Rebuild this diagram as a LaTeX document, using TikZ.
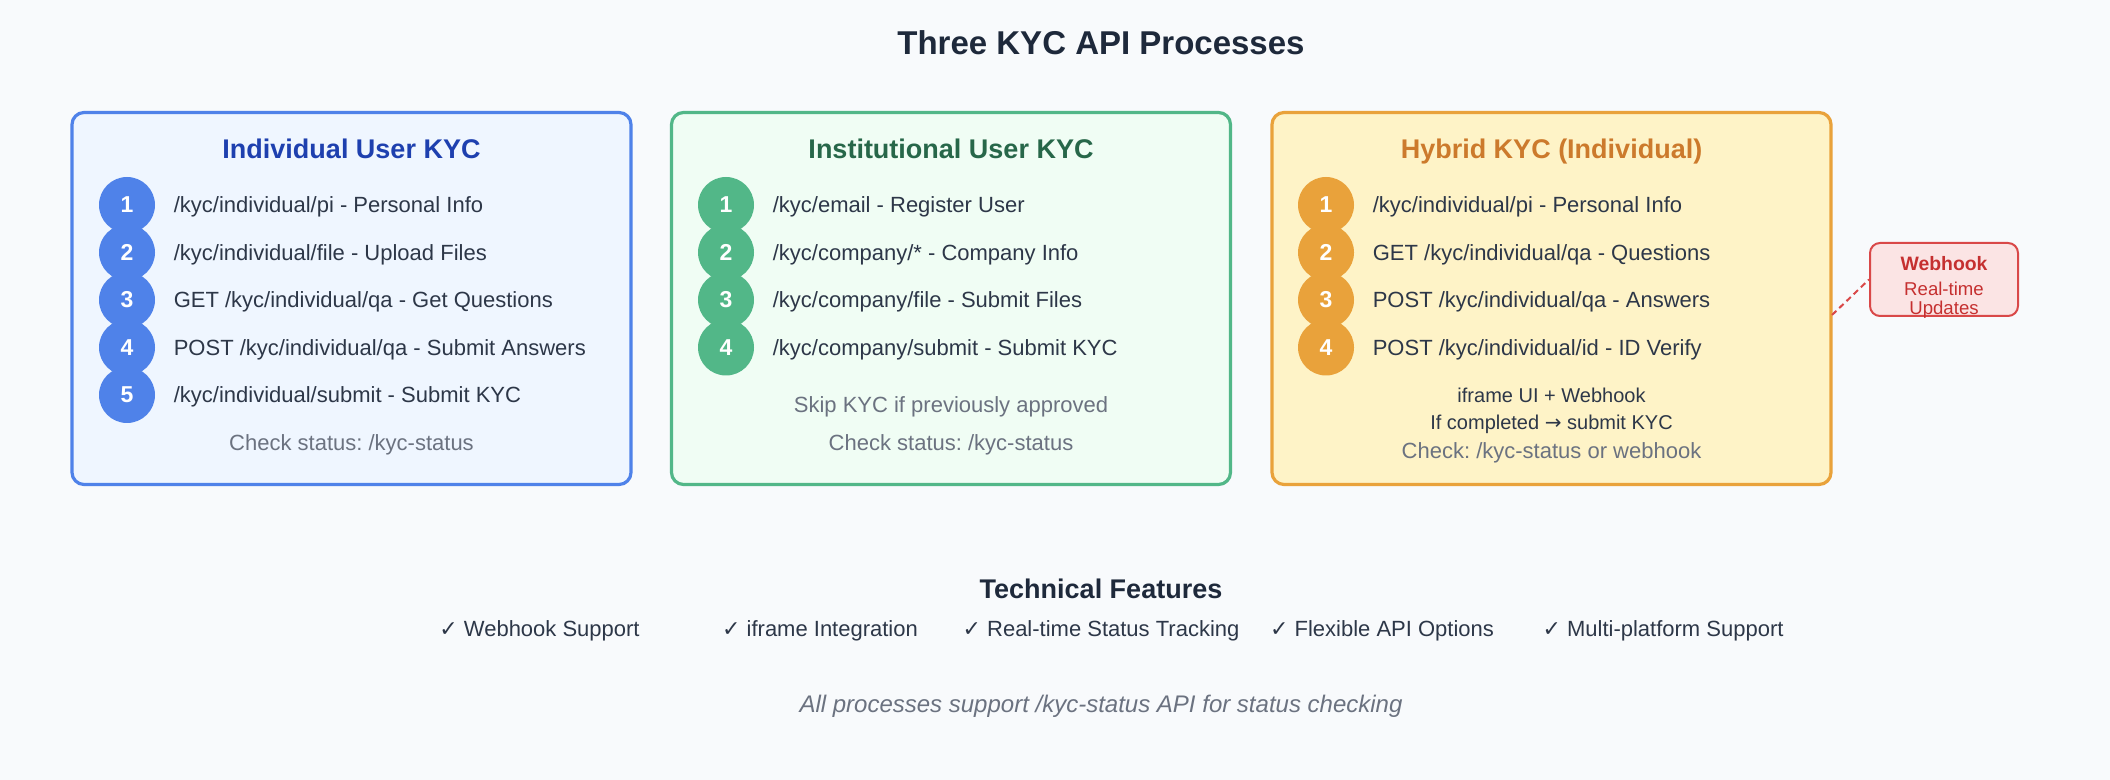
\documentclass[tikz,border=0pt]{standalone}
\usepackage{fontspec}
\setmainfont{Liberation Sans}
\newfontfamily\symfont{DejaVu Sans}
\usepackage{tikz}
\usetikzlibrary{positioning}
\frenchspacing

\definecolor{pagebg}{HTML}{F8FAFC}
\definecolor{titleink}{HTML}{1E293B}
\definecolor{ink}{HTML}{2D3748}
\definecolor{muted}{HTML}{6B7280}
\definecolor{bluedot}{HTML}{4F82E9}
\definecolor{bluebg}{HTML}{EFF6FF}
\definecolor{bluetitle}{HTML}{1E40AF}
\definecolor{greendot}{HTML}{52B788}
\definecolor{greenbg}{HTML}{F0FDF4}
\definecolor{greentitle}{HTML}{276749}
\definecolor{orangedot}{HTML}{E9A23B}
\definecolor{orangebg}{HTML}{FEF3C7}
\definecolor{orangetitle}{HTML}{CC7A2C}
\definecolor{hookline}{HTML}{D94848}
\definecolor{hookbg}{HTML}{FBE4E4}
\definecolor{hooktext}{HTML}{C53030}

\begin{document}
\begin{tikzpicture}[
            x = 0.5pt, y = -0.5pt, % one unit = one pixel, y down
            txt/.style = {inner sep=0pt, text depth=0pt},
            panel/.style = {draw, line width=1.6pt, rounded corners=6pt,
                minimum width=279.5pt, minimum height=186pt, inner sep=0pt},
            num/.style = {circle, minimum size=28pt, inner sep=0pt, text=white,
                font=\fontsize{11.5}{13}\selectfont\bfseries},
            heading/.style = {txt, text height=9.5pt, font=\fontsize{13.5}{16}\selectfont\bfseries},
            stepline/.style = {txt, text height=7.7pt, text=ink, font=\fontsize{11}{13}\selectfont},
            note/.style = {txt, text height=7.7pt, text=muted, font=\fontsize{11}{13}\selectfont},
            feature/.style = {txt, text height=7.7pt, text=ink, font=\fontsize{11}{13}\selectfont}
        ]

    \useasboundingbox (0,0) rectangle (2110,780);
    \fill[pagebg] (0,0) rectangle (2110,780);

    \node[txt, text height=11.5pt, text=titleink, font=\fontsize{16.5}{20}\selectfont\bfseries] (title) at (1101,43) {Three KYC API Processes};

    % the three panels
    \node[panel, draw=bluedot, fill=bluebg] (indbox) at (351.5,298.5) {};
    \node[panel, draw=greendot, fill=greenbg] (insbox) at (951,298.5) {};
    \node[panel, draw=orangedot, fill=orangebg] (hybbox) at (1551.5,298.5) {};

    % individual
    \node[heading, text=bluetitle] (indhead) at (351.5,149) {Individual User KYC};
    \node[num, fill=bluedot] (i1) at (127,205) {1};
    \node[stepline, right=9pt of i1] (i1t) {/kyc/individual/pi - Personal Info};
    \node[num, fill=bluedot] (i2) at (127,252.5) {2};
    \node[stepline, right=9pt of i2] (i2t) {/kyc/individual/file - Upload Files};
    \node[num, fill=bluedot] (i3) at (127,300) {3};
    \node[stepline, right=9pt of i3] (i3t) {GET /kyc/individual/qa - Get Questions};
    \node[num, fill=bluedot] (i4) at (127,347.5) {4};
    \node[stepline, right=9pt of i4] (i4t) {POST /kyc/individual/qa - Submit Answers};
    \node[num, fill=bluedot] (i5) at (127,395) {5};
    \node[stepline, right=9pt of i5] (i5t) {/kyc/individual/submit - Submit KYC};
    \node[note] (indcheck) at (351.5,443) {Check status: /kyc-status};

    % institutional
    \node[heading, text=greentitle] (inshead) at (951,149) {Institutional User KYC};
    \node[num, fill=greendot] (s1) at (726,205) {1};
    \node[stepline, right=9pt of s1] (s1t) {/kyc/email - Register User};
    \node[num, fill=greendot] (s2) at (726,252.5) {2};
    \node[stepline, right=9pt of s2] (s2t) {/kyc/company/* - Company Info};
    \node[num, fill=greendot] (s3) at (726,300) {3};
    \node[stepline, right=9pt of s3] (s3t) {/kyc/company/file - Submit Files};
    \node[num, fill=greendot] (s4) at (726,347.5) {4};
    \node[stepline, right=9pt of s4] (s4t) {/kyc/company/submit - Submit KYC};
    \node[note] (insskip) at (951,405) {Skip KYC if previously approved};
    \node[note] (inscheck) at (951,443) {Check status: /kyc-status};

    % hybrid
    \node[heading, text=orangetitle] (hybhead) at (1551.5,149) {Hybrid KYC (Individual)};
    \node[num, fill=orangedot] (h1) at (1326,205) {1};
    \node[stepline, right=9pt of h1] (h1t) {/kyc/individual/pi - Personal Info};
    \node[num, fill=orangedot] (h2) at (1326,252.5) {2};
    \node[stepline, right=9pt of h2] (h2t) {GET /kyc/individual/qa - Questions};
    \node[num, fill=orangedot] (h3) at (1326,300) {3};
    \node[stepline, right=9pt of h3] (h3t) {POST /kyc/individual/qa - Answers};
    \node[num, fill=orangedot] (h4) at (1326,347.5) {4};
    \node[stepline, right=9pt of h4] (h4t) {POST /kyc/individual/id - ID Verify};
    \node[stepline, text height=7pt, font=\fontsize{10}{12}\selectfont] (hybui) at (1551.5,396) {iframe UI + Webhook};
    \node[stepline, text height=7pt, font=\fontsize{10}{12}\selectfont] (hybdone) at (1551.5,423) {If completed {\symfont →} submit KYC};
    \node[note] (hybcheck) at (1551.5,451) {Check: /kyc-status or webhook};

    % webhook side note
    \node[draw=hookline, fill=hookbg, line width=1pt, rounded corners=5pt,
          minimum width=74pt, minimum height=36.5pt, inner sep=0pt] (hook) at (1944,279.5) {};
    \node[txt, text height=6.8pt, text=hooktext, font=\fontsize{9.7}{11}\selectfont\bfseries] (hookhead) at (1944,264) {Webhook};
    \node[txt, text height=6.5pt, text=hooktext, font=\fontsize{9.3}{11}\selectfont] (hooksub) at (1944,289) {Real-time};
    \node[txt, text height=6.5pt, text=hooktext, font=\fontsize{9.3}{11}\selectfont] (hooksub2) at (1944,308) {Updates};
    \coordinate (hookfoot) at (1832,315);
    \draw[hookline, line width=1pt, dash pattern=on 3pt off 2pt] (hookfoot) -- (hook.west);

    % features
    \node[heading, text=titleink] (feathead) at (1101,589) {Technical Features};
    \node[feature] (f1) at (539.5,629) {{\symfont ✓} Webhook Support};
    \node[feature] (f2) at (820,629) {{\symfont ✓} iframe Integration};
    \node[feature] (f3) at (1101,629) {{\symfont ✓} Real-time Status Tracking};
    \node[feature] (f4) at (1382,629) {{\symfont ✓} Flexible API Options};
    \node[feature] (f5) at (1663,629) {{\symfont ✓} Multi-platform Support};

    \node[txt, text height=8.4pt, text=muted, font=\fontsize{12}{14}\selectfont\itshape] (footer) at (1101,704) {All processes support /kyc-status API for status checking};

\end{tikzpicture}
\end{document}
